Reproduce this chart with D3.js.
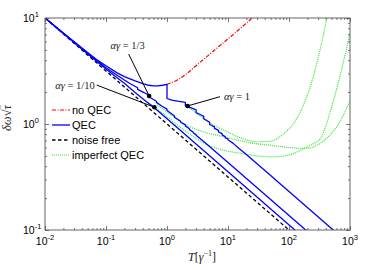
<!DOCTYPE html>
<html>
<head>
<meta charset="utf-8">
<script src="https://cdn.jsdelivr.net/npm/d3@7"></script>
<style>
body { margin: 0; background: #fff; }
svg { display: block; }
</style>
</head>
<body>
<div id="chart"></div>
<script>
// values: [T, delta omega sqrt(T)]
var noiseFree = [[0.01, 10], [100, 0.1]];

var noQEC = [[1, 2.36], [1.5, 2.62], [2, 2.92], [3, 3.55], [5, 4.55], [7, 5.36],
  [10, 6.35], [15, 7.75], [20, 8.95], [25, 10.05]];

var qecOne = [[0.01, 10], [0.02, 7.2], [0.04, 5.2], [0.07, 4.05], [0.1, 3.55], [0.15, 3.05],
  [0.2, 2.8], [0.3, 2.55], [0.4, 2.4], [0.5, 2.32], [0.6, 2.29], [0.7, 2.29], [0.85, 2.32],
  [1, 2.36], [1, 1.74], [1.2, 1.68], [1.5, 1.64], [2, 1.6], [2, 1.48], [2.5, 1.42], [3, 1.36],
  [3, 1.28], [3.5, 1.23], [4, 1.18], [4, 1.12], [5, 1.04], [5, 0.99], [6, 0.94], [6, 0.91],
  [7, 0.87], [7, 0.84], [8, 0.81], [8, 0.79], [9, 0.76], [9, 0.74], [10, 0.725], [10, 0.71],
  [12, 0.66], [15, 0.59], [20, 0.515], [50, 0.326], [100, 0.231], [600, 0.094]];

var qecThird = [[0.01, 10], [0.02, 7.18], [0.04, 5.2], [0.07, 4.0], [0.1, 3.4], [0.15, 2.9],
  [0.2, 2.6], [0.25, 2.4], [0.33, 2.2], [0.33, 2.12], [0.42, 1.98], [0.51, 1.86], [0.51, 1.8],
  [0.67, 1.64], [0.67, 1.6], [0.83, 1.47], [1, 1.38], [1, 1.34], [1.33, 1.19], [1.33, 1.16],
  [1.67, 1.06], [1.67, 1.04], [2, 0.98], [2, 0.96], [2.33, 0.9], [2.33, 0.885], [2.67, 0.84],
  [2.67, 0.83], [3, 0.79], [3, 0.785], [4, 0.685], [10, 0.433], [200, 0.097]];

var qecTenth = [[0.01, 10], [0.02, 7.15], [0.04, 5.1], [0.07, 3.9], [0.1, 3.3], [0.15, 2.75],
  [0.2, 2.42], [0.3, 1.98], [0.45, 1.64], [0.6, 1.45], [1, 1.12], [10, 0.354], [130, 0.098]];

var imperfectA = [[2.2, 1.46], [3, 1.27], [4, 1.12], [6, 0.97], [9.5, 0.85], [15, 0.75],
  [20, 0.71], [30, 0.68], [50, 0.69], [80, 0.8], [120, 1.02], [150, 1.27], [180, 1.6],
  [220, 2.2], [270, 3.3], [320, 4.9], [370, 7.2], [415, 10]];

var imperfectB = [[0.68, 1.51], [1, 1.3], [1.5, 1.1], [2.4, 0.94], [4, 0.84], [8.4, 0.76],
  [15, 0.7], [30, 0.65], [50, 0.63], [100, 0.6], [150, 0.59], [200, 0.59], [300, 0.64],
  [389, 0.71], [500, 0.82], [650, 1.0], [800, 1.25], [1000, 1.68]];

var imperfectC = [[0.6, 1.48], [1, 1.17], [2, 0.86], [4, 0.66], [8, 0.57], [15.7, 0.53],
  [30, 0.5], [55, 0.49], [100, 0.51], [150, 0.56], [200, 0.61], [260, 0.66], [322, 0.72],
  [400, 0.95], [500, 1.45], [600, 2.1], [700, 3.0], [800, 4.1], [900, 5.5], [1000, 7.2]];

var markers = [[0.62, 1.44], [0.51, 1.84], [2.18, 1.48]];
var markerLabels = ["1/10", "1/3", "1"];
var labelFrom = [[0.0704, 2.33], [0.235, 4.57], [7.4, 1.81]];

var xTicks = [0.01, 0.1, 1, 10, 100, 1000];
var xTickExp = ["-2", "-1", "0", "1", "2", "3"];
var yTicks = [0.1, 1, 10];
var yTickExp = ["-1", "0", "1"];

var legendNames = ["no QEC", "QEC", "noise free", "imperfect QEC"];

var margin = {top: 18, right: 24, bottom: 40, left: 45},
  width = 374 - margin.left - margin.right,
  height = 270 - margin.top - margin.bottom;

var svg = d3.select("#chart")
  .append("svg")
  .attr("width", 374)
  .attr("height", 270);

var x = d3.scaleLog().domain([0.01, 1000]).range([margin.left, margin.left + width]);
var y = d3.scaleLog().domain([0.1, 10]).range([margin.top + height, margin.top]);

svg.append("clipPath").attr("id", "plotclip")
  .append("rect")
  .attr("x", x(0.01)).attr("y", y(10))
  .attr("width", width).attr("height", height);

var line = d3.line()
  .x(function(d) { return x(d[0]); })
  .y(function(d) { return y(d[1]); });

var plot = svg.append("g").attr("clip-path", "url(#plotclip)");

var green = "#33e633", blue = "#0000ff", red = "#ff0000";

[imperfectA, imperfectB, imperfectC].forEach(function(s) {
  plot.append("path").datum(s)
    .attr("d", line.curve(d3.curveMonotoneX))
    .attr("fill", "none")
    .attr("stroke", green)
    .attr("stroke-width", 1.2)
    .attr("stroke-dasharray", "1,1");
});

plot.append("path").datum(noiseFree)
  .attr("d", line.curve(d3.curveLinear))
  .attr("fill", "none")
  .attr("stroke", "#000")
  .attr("stroke-width", 1.3)
  .attr("stroke-dasharray", "3.5,2.5");

plot.append("path").datum(noQEC)
  .attr("d", line.curve(d3.curveMonotoneX))
  .attr("fill", "none")
  .attr("stroke", red)
  .attr("stroke-width", 1.2)
  .attr("stroke-dasharray", "4,1.5,1,1.5");

[qecOne, qecThird, qecTenth].forEach(function(s) {
  plot.append("path").datum(s)
    .attr("d", line.curve(d3.curveLinear))
    .attr("fill", "none")
    .attr("stroke", blue)
    .attr("stroke-width", 1.3)
    .attr("stroke-linejoin", "round");
});

// annotations
var anchors = ["end", "middle", "start"];
markers.forEach(function(m, i) {
  var f = labelFrom[i];
  svg.append("line")
    .attr("x1", x(f[0])).attr("y1", y(f[1]))
    .attr("x2", x(m[0])).attr("y2", y(m[1]))
    .attr("stroke", "#000").attr("stroke-width", 1);
  svg.append("circle")
    .attr("cx", x(m[0])).attr("cy", y(m[1]))
    .attr("r", 2.3).attr("fill", "#000");
  var dx = [-2, -1, 4][i], dy = [4, -5, 3][i];
  var t = svg.append("text")
    .attr("x", x(f[0]) + dx).attr("y", y(f[1]) + dy)
    .attr("text-anchor", anchors[i])
    .attr("font-family", "Liberation Serif, serif")
    .attr("font-size", 10.5)
    .attr("fill", "#222");
  t.append("tspan").attr("font-style", "italic").text("αγ");
  t.append("tspan").text(" = " + markerLabels[i]);
});

// axes, ticks inside on all four sides
var axisColor = "#555";
var xMinor = [], yMinor = [];
xTicks.slice(0, -1).forEach(function(t) { for (var k = 2; k < 10; k++) xMinor.push(t * k); });
yTicks.slice(0, -1).forEach(function(t) { for (var k = 2; k < 10; k++) yMinor.push(t * k); });

function styleAxis(g) {
  g.select(".domain").remove();
  g.selectAll("line").attr("stroke", axisColor).attr("stroke-width", 0.8);
}

[[xTicks, 4], [xMinor, 2]].forEach(function(p) {
  svg.append("g").attr("transform", "translate(0," + y(0.1) + ")")
    .call(d3.axisBottom(x).tickValues(p[0]).tickSize(-p[1]).tickFormat(""))
    .call(styleAxis);
  svg.append("g").attr("transform", "translate(0," + y(10) + ")")
    .call(d3.axisTop(x).tickValues(p[0]).tickSize(-p[1]).tickFormat(""))
    .call(styleAxis);
});
[[yTicks, 4], [yMinor, 2]].forEach(function(p) {
  svg.append("g").attr("transform", "translate(" + x(0.01) + ",0)")
    .call(d3.axisLeft(y).tickValues(p[0]).tickSize(-p[1]).tickFormat(""))
    .call(styleAxis);
  svg.append("g").attr("transform", "translate(" + x(1000) + ",0)")
    .call(d3.axisRight(y).tickValues(p[0]).tickSize(-p[1]).tickFormat(""))
    .call(styleAxis);
});

svg.append("rect")
  .attr("x", x(0.01)).attr("y", y(10))
  .attr("width", width).attr("height", height)
  .attr("fill", "none").attr("stroke", axisColor).attr("stroke-width", 0.9);

xTicks.forEach(function(t, i) {
  var lab = svg.append("text")
    .attr("x", x(t)).attr("y", y(0.1) + 15)
    .attr("text-anchor", "middle")
    .attr("font-family", "Liberation Sans, Arial, sans-serif")
    .attr("font-size", 10.5).attr("fill", "#000");
  lab.append("tspan").text("10");
  lab.append("tspan").attr("dy", -5).attr("font-size", 7.5).text(xTickExp[i]);
});

yTicks.forEach(function(t, i) {
  var lab = svg.append("text")
    .attr("x", 23).attr("y", y(t) + 4)
    .attr("font-family", "Liberation Sans, Arial, sans-serif")
    .attr("font-size", 10.5).attr("fill", "#000");
  lab.append("tspan").text("10");
  lab.append("tspan").attr("dy", -5).attr("font-size", 7.5).text(yTickExp[i]);
});

// axis titles
var xt = svg.append("text")
  .attr("x", 202).attr("y", 261)
  .attr("text-anchor", "middle")
  .attr("font-family", "Liberation Serif, serif")
  .attr("font-size", 12).attr("fill", "#222");
xt.append("tspan").attr("font-style", "italic").text("T");
xt.append("tspan").text("[");
xt.append("tspan").attr("font-style", "italic").text("γ");
xt.append("tspan").attr("dy", -5).attr("font-size", 8).text("−1");
xt.append("tspan").attr("dy", 5).text("]");

var yt = svg.append("text")
  .attr("transform", "translate(11,118) rotate(-90)")
  .attr("text-anchor", "middle")
  .attr("font-family", "Liberation Serif, serif")
  .attr("font-size", 12.5).attr("fill", "#222");
yt.append("tspan").attr("font-style", "italic").text("δω");
yt.append("tspan").text("√");
yt.append("tspan").attr("font-style", "italic")
  .style("text-decoration", "overline").text("τ");

// legend
var legendStyle = [
  {stroke: red, dash: "4,1.5,1,1.5", w: 1.2},
  {stroke: blue, dash: null, w: 1.3},
  {stroke: "#000", dash: "3.5,2.5", w: 1.3},
  {stroke: green, dash: "1,1", w: 1.2}
];
var legendY = [110, 125, 140, 155];
legendNames.forEach(function(name, i) {
  var s = legendStyle[i];
  svg.append("line")
    .attr("x1", 52).attr("x2", 70)
    .attr("y1", legendY[i]).attr("y2", legendY[i])
    .attr("stroke", s.stroke).attr("stroke-width", s.w)
    .attr("stroke-dasharray", s.dash);
  svg.append("text")
    .attr("x", 72).attr("y", legendY[i] + 4)
    .attr("font-family", "Liberation Sans, Arial, sans-serif")
    .attr("font-size", 11).attr("fill", "#000")
    .text(name);
});
</script>
</body>
</html>
